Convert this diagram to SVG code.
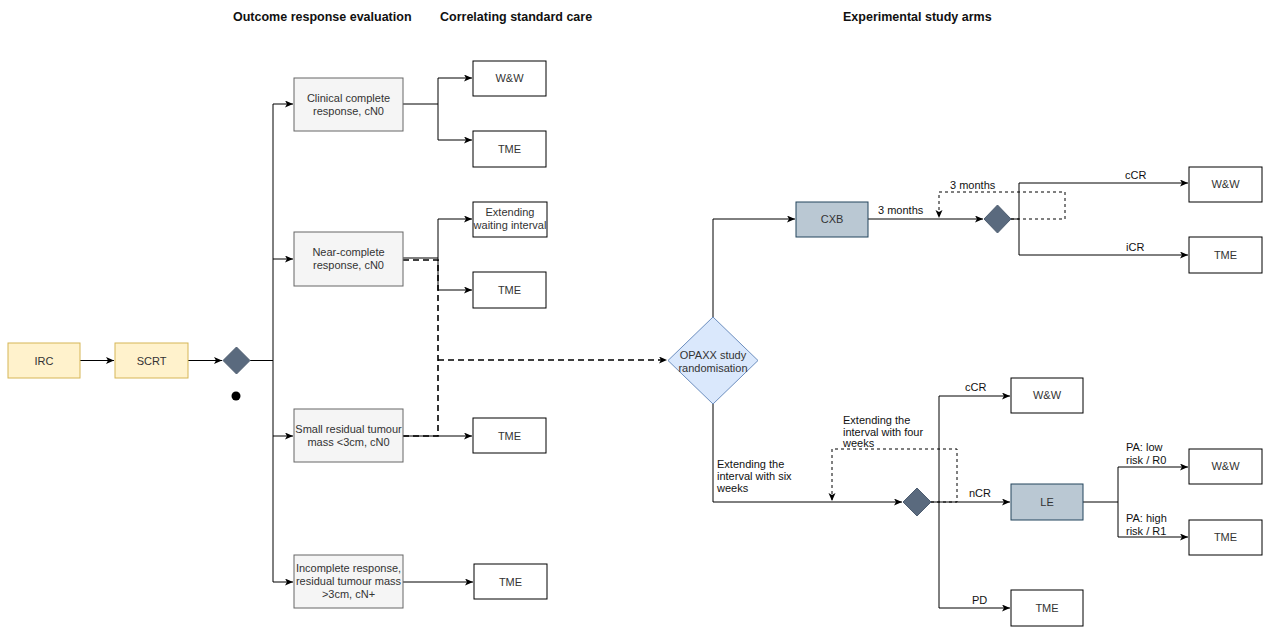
<svg xmlns="http://www.w3.org/2000/svg" width="1263" height="628" viewBox="0 0 1263 628">
<style>
text{font-family:"Liberation Sans",Arial,sans-serif;font-size:11px;fill:#111;}
.h{font-weight:bold;font-size:12.5px;fill:#111;}
.c{text-anchor:middle;}
.g{fill:#333;}
.y{fill:#fff2cc;stroke:#d6b656;stroke-width:1;}
.gr{fill:#f5f5f5;stroke:#666;stroke-width:1;}
.w{fill:#fff;stroke:#000;stroke-width:1;}
.b{fill:#bac8d3;stroke:#23445d;stroke-width:1;}
.d{fill:#5a6a7e;stroke:#4e5d70;stroke-width:1;}
.o{fill:#dae8fc;stroke:#6c8ebf;stroke-width:1;}
.l{fill:none;stroke:#000;stroke-width:1;}
.da{fill:none;stroke:#000;stroke-width:1.6;stroke-dasharray:6,4;}
.dt{fill:none;stroke:#000;stroke-width:1;stroke-dasharray:3,3;}
</style>
<defs>
<marker id="a" markerUnits="userSpaceOnUse" markerWidth="10" markerHeight="8" refX="8" refY="3.5" orient="auto">
<path d="M0,0 L8,3.5 L0,7 L2,3.5 z" fill="#000"/>
</marker>
</defs>
<g id="headers">
<text class="h" x="233" y="21">Outcome response evaluation</text>
<text class="h" x="440" y="21">Correlating standard care</text>
<text class="h" x="843" y="21">Experimental study arms</text>
</g>
<g id="connectors">
<path class="l" d="M80,360.5 H114" marker-end="url(#a)"/>
<path class="l" d="M188,360.5 H222" marker-end="url(#a)"/>
<path class="l" d="M250,360.5 H273"/>
<path class="l" d="M273,104 V582"/>
<path class="l" d="M273,104 H293" marker-end="url(#a)"/>
<path class="l" d="M273,259 H293" marker-end="url(#a)"/>
<path class="l" d="M273,436 H293" marker-end="url(#a)"/>
<path class="l" d="M273,582 H293" marker-end="url(#a)"/>
<path class="l" d="M403,104 H438 V140"/>
<path class="l" d="M438,104 V78 H472" marker-end="url(#a)"/>
<path class="l" d="M438,140 H472" marker-end="url(#a)"/>
<path class="l" d="M403,258 H438 V219 H472" marker-end="url(#a)"/>
<path class="l" d="M438,258 V290 H472" marker-end="url(#a)"/>
<path class="l" d="M403,436 H472" marker-end="url(#a)"/>
<path class="l" d="M403,582 H473" marker-end="url(#a)"/>
<path class="da" d="M403,260 H438 V436 H403"/>
<path class="da" d="M438,360 H667" marker-end="url(#a)"/>
<path class="l" d="M713,317 V219 H795" marker-end="url(#a)"/>
<path class="l" d="M868,219 H983" marker-end="url(#a)"/>
<path class="dt" d="M1011,219 H1065 V192 H939 V218" marker-end="url(#a)"/>
<path class="l" d="M1011,219 H1019"/>
<path class="l" d="M1019,183 V255"/>
<path class="l" d="M1019,183 H1188" marker-end="url(#a)"/>
<path class="l" d="M1019,255 H1188" marker-end="url(#a)"/>
<path class="l" d="M713,404 V502 H902" marker-end="url(#a)"/>
<path class="dt" d="M931,502 H957 V449 H832 V501" marker-end="url(#a)"/>
<path class="l" d="M931,502 H1010" marker-end="url(#a)"/>
<path class="l" d="M939,396 V608"/>
<path class="l" d="M939,396 H1010" marker-end="url(#a)"/>
<path class="l" d="M939,608 H1010" marker-end="url(#a)"/>
<path class="l" d="M1083,502 H1118"/>
<path class="l" d="M1118,467 V537"/>
<path class="l" d="M1118,467 H1188" marker-end="url(#a)"/>
<path class="l" d="M1118,537 H1188" marker-end="url(#a)"/>
</g>
<g id="edge-labels">
<text x="878" y="214">3 months</text>
<text x="950" y="189">3 months</text>
<text x="1125" y="179">cCR</text>
<text x="1126" y="251">iCR</text>
<text x="717" y="468">Extending the</text>
<text x="717" y="480">interval with six</text>
<text x="717" y="492">weeks</text>
<text x="843" y="424">Extending the</text>
<text x="843" y="436">interval with four</text>
<text x="843" y="447">weeks</text>
<text x="965" y="391">cCR</text>
<text x="969" y="497">nCR</text>
<text x="972" y="604">PD</text>
<text x="1126" y="451">PA: low</text>
<text x="1126" y="464">risk / R0</text>
<text x="1126" y="522">PA: high</text>
<text x="1126" y="535">risk / R1</text>
</g>
<g id="irc"><rect class="y" x="8" y="343" width="72" height="35"/><text class="c g" x="44" y="364.5">IRC</text></g>
<g id="scrt"><rect class="y" x="115" y="343" width="73" height="35"/><text class="c g" x="151.5" y="364.5">SCRT</text></g>
<g id="decision1"><path class="d" d="M236.5,347 L250,360.5 L236.5,374 L223,360.5 z"/><circle cx="236" cy="396" r="4.5" fill="#000"/></g>
<g id="ccr"><rect class="gr" x="294" y="78" width="109" height="53"/><text class="c g" x="348.5" y="102">Clinical complete</text><text class="c g" x="348.5" y="115">response, cN0</text></g>
<g id="ncr"><rect class="gr" x="294" y="232" width="109" height="54"/><text class="c g" x="348.5" y="256">Near-complete</text><text class="c g" x="348.5" y="269">response, cN0</text></g>
<g id="small"><rect class="gr" x="294" y="409" width="109" height="53"/><text class="c g" x="348.5" y="433">Small residual tumour</text><text class="c g" x="348.5" y="446">mass &lt;3cm, cN0</text></g>
<g id="incomplete"><rect class="gr" x="294" y="555" width="109" height="53"/><text class="c g" x="348.5" y="572">Incomplete response,</text><text class="c g" x="348.5" y="585">residual tumour mass</text><text class="c g" x="348.5" y="598">&gt;3cm, cN+</text></g>
<g id="ww1"><rect class="w" x="473" y="61" width="73" height="35"/><text class="c g" x="509.5" y="82">W&amp;W</text></g>
<g id="tme1"><rect class="w" x="473" y="131" width="73" height="36"/><text class="c g" x="509.5" y="153">TME</text></g>
<g id="ext"><rect class="w" x="473" y="202" width="74" height="35"/><text class="c g" x="510" y="216">Extending</text><text class="c g" x="510" y="229">waiting interval</text></g>
<g id="tme2"><rect class="w" x="473" y="272" width="73" height="36"/><text class="c g" x="509.5" y="294">TME</text></g>
<g id="tme3"><rect class="w" x="473" y="418" width="73" height="35"/><text class="c g" x="509.5" y="439.5">TME</text></g>
<g id="tme4"><rect class="w" x="474" y="564" width="73" height="35"/><text class="c g" x="510.5" y="585.5">TME</text></g>
<g id="opaxx"><path class="o" d="M713,317 L758,360.5 L713,404 L668,360.5 z"/><text class="c g" x="713" y="359">OPAXX study</text><text class="c g" x="713" y="372">randomisation</text></g>
<g id="cxb"><rect class="b" x="796" y="202" width="72" height="35"/><text class="c g" x="832" y="223">CXB</text></g>
<g id="decision2"><path class="d" d="M997.5,205 L1011,219 L997.5,233 L984,219 z"/></g>
<g id="ww2"><rect class="w" x="1189" y="167" width="73" height="35"/><text class="c g" x="1225.5" y="188">W&amp;W</text></g>
<g id="tme5"><rect class="w" x="1189" y="237" width="73" height="36"/><text class="c g" x="1225.5" y="259">TME</text></g>
<g id="decision3"><path class="d" d="M917,488 L931,502 L917,516 L903,502 z"/></g>
<g id="ww3"><rect class="w" x="1011" y="378" width="72" height="35"/><text class="c g" x="1047" y="399">W&amp;W</text></g>
<g id="le"><rect class="b" x="1011" y="484" width="72" height="36"/><text class="c g" x="1047" y="506">LE</text></g>
<g id="tme6"><rect class="w" x="1011" y="590" width="72" height="36"/><text class="c g" x="1047" y="612">TME</text></g>
<g id="ww4"><rect class="w" x="1189" y="449" width="73" height="35"/><text class="c g" x="1225.5" y="470">W&amp;W</text></g>
<g id="tme7"><rect class="w" x="1189" y="520" width="73" height="35"/><text class="c g" x="1225.5" y="541">TME</text></g>
</svg>
